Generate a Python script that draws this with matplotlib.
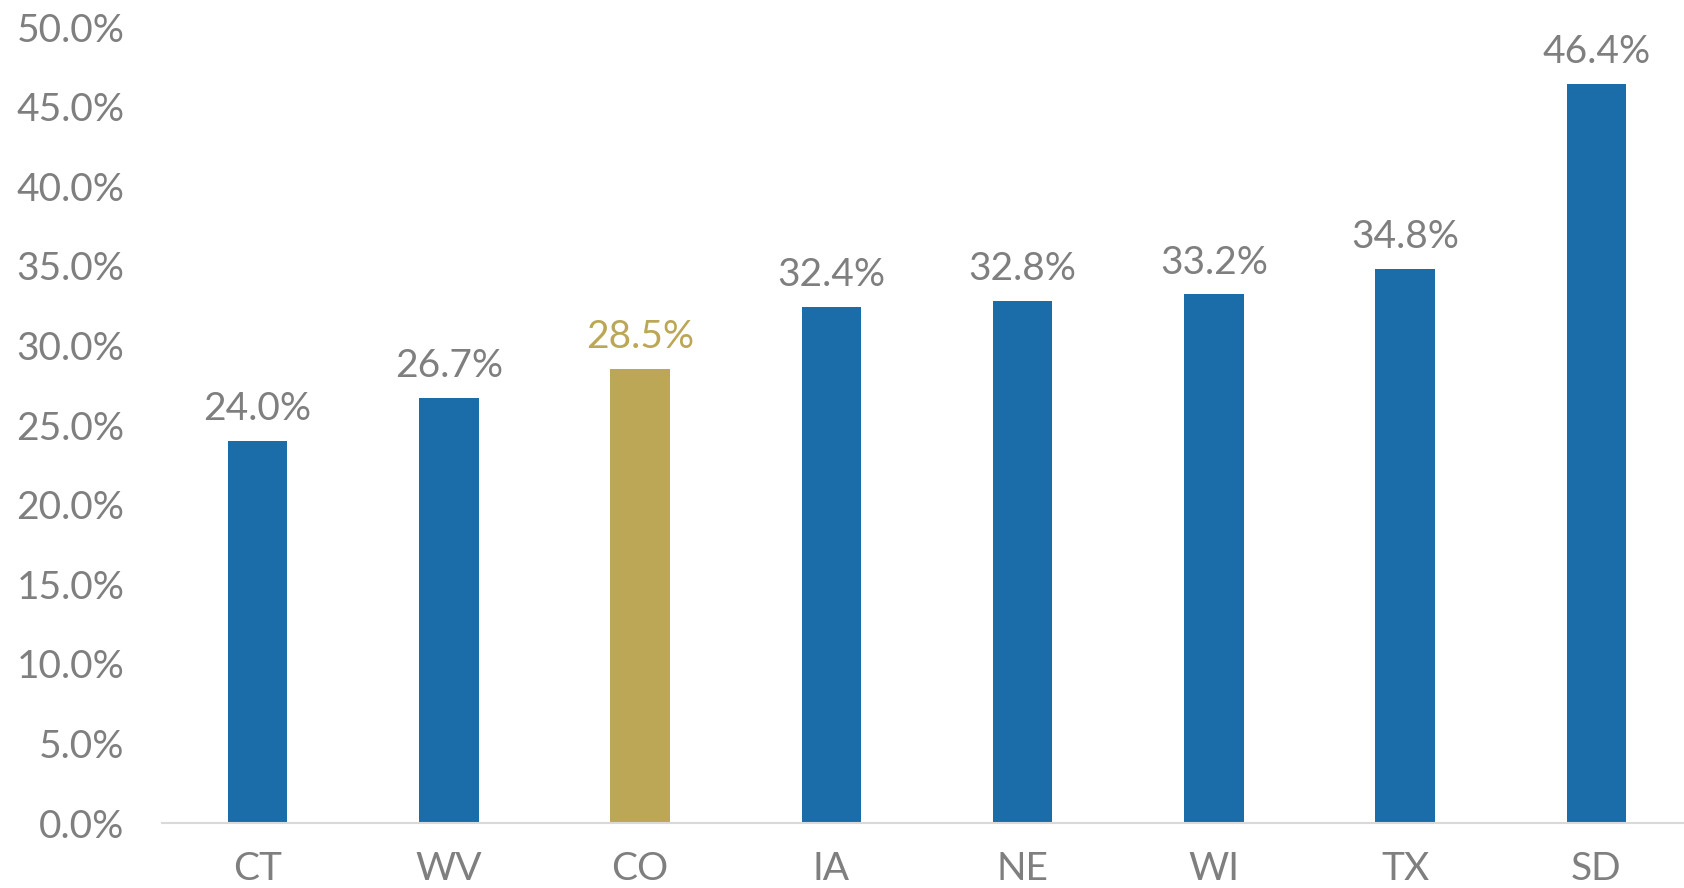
import matplotlib.pyplot as plt

states = ["CT", "WV", "CO", "IA", "NE", "WI", "TX", "SD"]
values = [24.0, 26.7, 28.5, 32.4, 32.8, 33.2, 34.8, 46.4]
highlight = "CO"

blue = "#1A6DA8"
gold = "#BBA755"
grey = "#7F7F7F"

plt.rcParams['font.family'] = ['Lato', 'DejaVu Sans']

fig = plt.figure(figsize=(16.84, 8.88), dpi=100)
ax = fig.add_axes([162 / 1684, 65 / 888, 1530 / 1684, 796 / 888])

colors = [gold if s == highlight else blue for s in states]
bars = ax.bar(range(len(states)), values, width=0.31, color=colors)

for b, v, c in zip(bars, values, colors):
    ax.annotate(f"{v:.1f}%", (b.get_x() + b.get_width() / 2, v),
                xytext=(0, 10), textcoords="offset points",
                ha="center", va="bottom", fontsize=28,
                color=gold if c == gold else grey)

ax.set_xlim(-0.5, len(states) - 0.5)
ax.set_ylim(0, 50)
ax.set_yticks(range(0, 51, 5))
ax.set_yticklabels([f"{t:.1f}%" for t in range(0, 51, 5)])
ax.set_xticks(range(len(states)))
ax.set_xticklabels(states)
ax.tick_params(axis="both", length=0, labelsize=28, labelcolor=grey)
ax.tick_params(axis="y", pad=27)
ax.tick_params(axis="x", pad=20)

for s in ["top", "right", "left"]:
    ax.spines[s].set_visible(False)
ax.spines["bottom"].set_color("#D9D9D9")
ax.spines["bottom"].set_linewidth(1.5)

fig.savefig("out.png", dpi=100)
